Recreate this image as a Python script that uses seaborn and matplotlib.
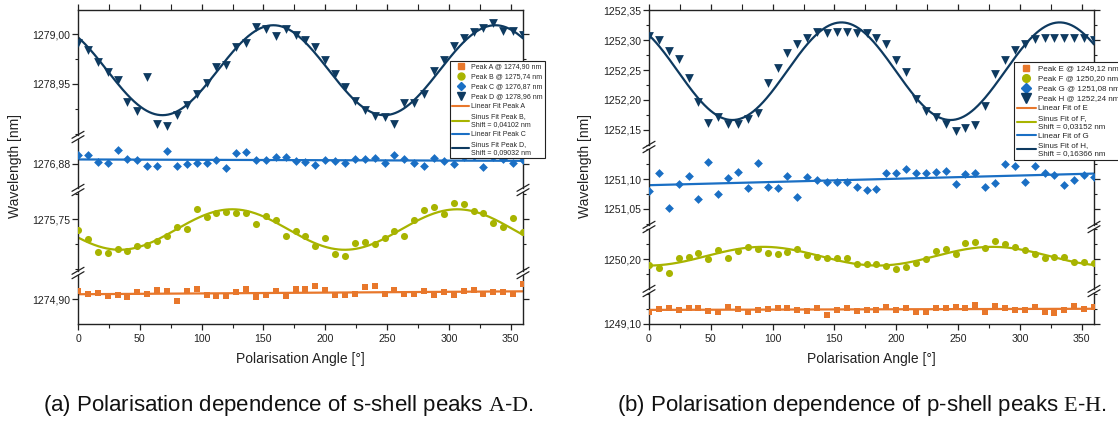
import numpy as np
import pandas as pd
import matplotlib
matplotlib.use("Agg")
import matplotlib.pyplot as plt
import seaborn as sns
from matplotlib.ticker import MultipleLocator, FuncFormatter, FixedLocator, NullLocator
from matplotlib.lines import Line2D

# ---------------- data ----------------
angles = [0, 8, 16, 24, 32, 40, 48, 56, 64, 72, 80, 88, 96, 104, 112, 120, 128, 136, 144, 152,
          160, 168, 176, 184, 192, 200, 208, 216, 224, 232, 240, 248, 256, 264, 272, 280, 288,
          296, 304, 312, 320, 328, 336, 344, 352, 360]

peak_a = [1274.908, 1274.905, 1274.906, 1274.903, 1274.904, 1274.902, 1274.907, 1274.905, 1274.909,
          1274.908, 1274.898, 1274.908, 1274.910, 1274.904, 1274.903, 1274.903, 1274.907, 1274.910,
          1274.902, 1274.904, 1274.908, 1274.903, 1274.910, 1274.910, 1274.913, 1274.909, 1274.904,
          1274.904, 1274.905, 1274.912, 1274.913, 1274.905, 1274.909, 1274.905, 1274.905, 1274.908,
          1274.904, 1274.907, 1274.904, 1274.908, 1274.909, 1274.905, 1274.907, 1274.907, 1274.905,
          1274.915]
peak_b = [1275.739, 1275.730, 1275.717, 1275.716, 1275.720, 1275.718, 1275.723, 1275.724, 1275.728,
          1275.733, 1275.742, 1275.740, 1275.760, 1275.752, 1275.756, 1275.757, 1275.756, 1275.756,
          1275.745, 1275.753, 1275.749, 1275.733, 1275.738, 1275.733, 1275.723, 1275.731, 1275.715,
          1275.713, 1275.726, 1275.727, 1275.725, 1275.731, 1275.738, 1275.733, 1275.749, 1275.759,
          1275.762, 1275.755, 1275.766, 1275.765, 1275.758, 1275.756, 1275.746, 1275.742, 1275.751,
          1275.737]
peak_c = [1276.889, 1276.889, 1276.882, 1276.881, 1276.894, 1276.885, 1276.884, 1276.878, 1276.878,
          1276.893, 1276.878, 1276.880, 1276.881, 1276.881, 1276.884, 1276.876, 1276.891, 1276.892,
          1276.884, 1276.884, 1276.887, 1276.887, 1276.883, 1276.882, 1276.879, 1276.884, 1276.883,
          1276.881, 1276.885, 1276.885, 1276.886, 1276.881, 1276.889, 1276.885, 1276.881, 1276.878,
          1276.886, 1276.883, 1276.880, 1276.887, 1276.888, 1276.877, 1276.887, 1276.885, 1276.881,
          1276.884]
peak_d = [1278.991, 1278.984, 1278.972, 1278.962, 1278.954, 1278.932, 1278.923, 1278.957, 1278.910,
          1278.908, 1278.919, 1278.929, 1278.940, 1278.951, 1278.967, 1278.969, 1278.987, 1278.991,
          1279.007, 1279.005, 1278.998, 1279.005, 1278.999, 1278.994, 1278.987, 1278.974, 1278.960,
          1278.947, 1278.933, 1278.924, 1278.918, 1278.917, 1278.910, 1278.931, 1278.931, 1278.940,
          1278.963, 1278.974, 1278.988, 1278.996, 1279.002, 1279.006, 1279.011, 1279.003, 1279.003,
          1278.999]

peak_e = [1249.1205, 1249.1245, 1249.127, 1249.1233, 1249.126, 1249.127, 1249.122, 1249.1205, 1249.128,
          1249.1245, 1249.1205, 1249.1233, 1249.125, 1249.126, 1249.127, 1249.1233, 1249.122, 1249.126,
          1249.115, 1249.1233, 1249.126, 1249.1217, 1249.1233, 1249.1233, 1249.129, 1249.1233, 1249.126,
          1249.1205, 1249.1205, 1249.126, 1249.126, 1249.128, 1249.126, 1249.1317, 1249.1205, 1249.130,
          1249.127, 1249.1233, 1249.1233, 1249.128, 1249.1205, 1249.119, 1249.1233, 1249.130, 1249.1245,
          1249.129]
peak_f = [1250.1905, 1250.186, 1250.1767, 1250.2017, 1250.2033, 1250.211, 1250.200, 1250.2155, 1250.2017,
          1250.2143, 1250.220, 1250.2167, 1250.211, 1250.209, 1250.2127, 1250.2177, 1250.207, 1250.2043,
          1250.2027, 1250.2027, 1250.2017, 1250.1917, 1250.192, 1250.192, 1250.189, 1250.1833, 1250.1877,
          1250.1933, 1250.2005, 1250.2138, 1250.2167, 1250.2083, 1250.2267, 1250.2283, 1250.2183, 1250.2305,
          1250.2255, 1250.221, 1250.2155, 1250.2083, 1250.2027, 1250.2043, 1250.2043, 1250.196, 1250.195,
          1250.1933]
peak_g = [1251.0805, 1251.1105, 1251.051, 1251.092, 1251.105, 1251.067, 1251.129, 1251.075, 1251.101,
          1251.112, 1251.0845, 1251.126, 1251.087, 1251.0845, 1251.105, 1251.0705, 1251.104, 1251.098,
          1251.0955, 1251.0955, 1251.0955, 1251.086, 1251.082, 1251.083, 1251.1095, 1251.1095, 1251.117,
          1251.1095, 1251.1105, 1251.112, 1251.114, 1251.091, 1251.108, 1251.1095, 1251.086, 1251.094,
          1251.1245, 1251.122, 1251.0955, 1251.122, 1251.1095, 1251.107, 1251.090, 1251.099, 1251.107,
          1251.103]
peak_h = [1252.307, 1252.300, 1252.282, 1252.268, 1252.237, 1252.196, 1252.161, 1252.171, 1252.160,
          1252.160, 1252.168, 1252.179, 1252.229, 1252.254, 1252.278, 1252.293, 1252.304, 1252.313,
          1252.312, 1252.313, 1252.313, 1252.311, 1252.312, 1252.303, 1252.293, 1252.267, 1252.246,
          1252.202, 1252.182, 1252.171, 1252.160, 1252.148, 1252.154, 1252.159, 1252.190, 1252.244,
          1252.266, 1252.284, 1252.293, 1252.302, 1252.304, 1252.304, 1252.304, 1252.304, 1252.304,
          1252.300]

# labelled y ticks of each axis segment
ticks_d = [1278.95, 1279.00]
ticks_c = [1276.88]
ticks_b = [1275.75]
ticks_a = [1274.90]
ticks_h = [1252.15, 1252.20, 1252.25, 1252.30, 1252.35]
ticks_g = [1251.05, 1251.10]
ticks_f = [1250.20]
ticks_e = [1249.10]

labels_left = ["Peak A @ 1274,90 nm", "Peak B @ 1275,74 nm", "Peak C @ 1276,87 nm", "Peak D @ 1278,96 nm",
               "Linear Fit Peak A", "Sinus Fit Peak B,\nShift = 0,04102 nm",
               "Linear Fit Peak C", "Sinus Fit Peak D,\nShift = 0,09032 nm"]
labels_right = ["Peak E @ 1249,12 nm", "Peak F @ 1250,20 nm", "Peak G @ 1251,08 nm", "Peak H @ 1252,24 nm",
                "Linear Fit of E", "Sinus Fit of F,\nShift = 0,03152 nm",
                "Linear Fit of G", "Sinus Fit of H,\nShift = 0,16366 nm"]
x_label = "Polarisation Angle [°]"
y_label = "Wavelength [nm]"
caption_a = r"(a) Polarisation dependence of s-shell peaks $\mathrm{A}$-$\mathrm{D}$."
caption_b = r"(b) Polarisation dependence of p-shell peaks $\mathrm{E}$-$\mathrm{H}$."

# ---------------- style ----------------
sns.set_theme(style="ticks")
plt.rcParams["font.family"] = ["Liberation Sans", "DejaVu Sans"]
plt.rcParams["mathtext.fontset"] = "custom"
plt.rcParams["mathtext.rm"] = "Liberation Serif"

C_A, C_B, C_C, C_D = "#e8772b", "#a8b400", "#1a6fc4", "#0e3a60"
INK = "#222222"

df = pd.DataFrame({"angle": angles, "A": peak_a, "B": peak_b, "C": peak_c, "D": peak_d,
                   "E": peak_e, "F": peak_f, "G": peak_g, "H": peak_h})

xf = np.linspace(0, 360, 500)


def lin_fit(x, y):
    k, c = np.polyfit(np.asarray(x, float), np.asarray(y, float), 1)
    return k * xf + c


def sine_fit(x, y):
    x = np.asarray(x, float)
    y = np.asarray(y, float)
    best = None
    for P in np.arange(140, 230, 0.5):
        M = np.column_stack([np.ones_like(x), np.sin(2 * np.pi * x / P), np.cos(2 * np.pi * x / P)])
        coef, *_ = np.linalg.lstsq(M, y, rcond=None)
        sse = np.sum((M @ coef - y) ** 2)
        if best is None or sse < best[0]:
            best = (sse, P, coef)
    _, P, coef = best
    return coef[0] + coef[1] * np.sin(2 * np.pi * xf / P) + coef[2] * np.cos(2 * np.pi * xf / P)


W, H = 1118, 426
fig = plt.figure(figsize=(W / 100, H / 100), dpi=100)
fmt = FuncFormatter(lambda v, p: f"{v:.2f}".replace(".", ","))
cmap = {"A": C_A, "B": C_B, "C": C_C, "D": C_D, "E": C_A, "F": C_B, "G": C_C, "H": C_D}


def make_panel(x0, x1, segs):
    n = len(segs)
    for i, (top, bot, ref, yref, scale, col, marker, size, kind, majors, minor_step) in enumerate(segs):
        ax = fig.add_axes([x0 / W, 1 - bot / H, (x1 - x0) / W, (bot - top) / H])
        ax.set_facecolor("none")
        sns.scatterplot(data=df, x="angle", y=col, ax=ax, marker=marker, color=cmap[col], s=size,
                        linewidth=0, zorder=3)
        yfit = lin_fit(df["angle"], df[col]) if kind == "lin" else sine_fit(df["angle"], df[col])
        sns.lineplot(x=xf, y=yfit, ax=ax, color=cmap[col], lw=1.6, zorder=2)
        ax.set_xlim(0, 360)
        lo = ref - (bot - yref) * scale
        hi = ref + (yref - top) * scale
        ax.set_ylim(lo - 1e-6, hi + 1e-6)
        ax.yaxis.set_major_locator(FixedLocator(majors))
        if minor_step:
            mins = np.arange(np.ceil(lo / minor_step - 1e-6) * minor_step, hi + 1e-9, minor_step)
            mins = [m for m in mins if all(abs(m - t) > 1e-6 for t in majors)]
            ax.yaxis.set_minor_locator(FixedLocator(mins))
        else:
            ax.yaxis.set_minor_locator(NullLocator())
        ax.yaxis.set_major_formatter(fmt)
        ax.xaxis.set_major_locator(MultipleLocator(50))
        ax.xaxis.set_minor_locator(MultipleLocator(25))
        ax.set_xlabel("")
        ax.set_ylabel("")
        for s in ax.spines.values():
            s.set_linewidth(1.0)
            s.set_color(INK)
        ax.spines["top"].set_visible(i == 0)
        ax.spines["bottom"].set_visible(i == n - 1)
        ax.tick_params(axis="y", which="both", direction="out", left=True, right=True,
                       labelleft=True, labelright=False, labelsize=7.6, pad=1.5, color=INK,
                       labelcolor=INK)
        ax.tick_params(axis="y", which="major", length=4, width=0.9)
        ax.tick_params(axis="y", which="minor", length=2.5, width=0.8)
        ax.tick_params(axis="x", which="both", direction="out", top=(i == 0), bottom=(i == n - 1),
                       labeltop=False, labelbottom=(i == n - 1), labelsize=7.6, pad=3,
                       color=INK, labelcolor=INK)
        ax.tick_params(axis="x", which="major", length=4, width=0.9)
        ax.tick_params(axis="x", which="minor", length=3 if i == n - 1 else 4, width=0.8)
    # break marks on both spines
    for k in range(n - 1):
        yb = (segs[k][1] + segs[k + 1][0]) / 2
        for xs in (x0, x1):
            for dy in (-2.2, 2.2):
                fig.add_artist(Line2D([(xs - 6) / W, (xs + 6) / W],
                                      [1 - (yb + dy + 3.5) / H, 1 - (yb + dy - 3.5) / H],
                                      transform=fig.transFigure, color=INK, lw=0.9))


sl = 0.001
sr = 0.05 / 30
left_segs = [
    (10, 135, 1279.00, 34, sl, "D", "v", 40, "sin", ticks_d, 0.025),
    (139, 188, 1276.88, 164, sl, "C", "D", 20, "lin", ticks_c, None),
    (192, 271, 1275.75, 219.3, sl, "B", "o", 26, "sin", ticks_b, 0.025),
    (275, 324, 1274.90, 299.3, sl, "A", "s", 19, "lin", ticks_a, None),
]
right_segs = [
    (10, 145, 1252.35, 10, sr, "H", "v", 40, "sin", ticks_h, 0.025),
    (149, 225, 1251.10, 179, sr, "G", "D", 20, "lin", ticks_g, 0.025),
    (229, 289, 1250.20, 259.3, sr, "F", "o", 26, "sin", ticks_f, 0.025),
    (293, 324, 1249.10, 324, sr, "E", "s", 19, "lin", ticks_e, 0.025),
]
make_panel(78, 523, left_segs)
make_panel(649, 1094, right_segs)


def legend_handles(scale):
    return [Line2D([], [], ls="none", marker="s", color=C_A, ms=4.2 * scale),
            Line2D([], [], ls="none", marker="o", color=C_B, ms=5 * scale),
            Line2D([], [], ls="none", marker="D", color=C_C, ms=4.2 * scale),
            Line2D([], [], ls="none", marker="v", color=C_D, ms=6 * scale),
            Line2D([], [], color=C_A, lw=1.5), Line2D([], [], color=C_B, lw=1.5),
            Line2D([], [], color=C_C, lw=1.5), Line2D([], [], color=C_D, lw=1.5)]


for labels, (lx, ly), fs, ls, sc in ((labels_left, (450, 61), 5.0, 0.42, 1.0),
                                     (labels_right, (1014, 62), 5.75, 0.3, 1.1)):
    leg = fig.legend(handles=legend_handles(sc), labels=labels, loc="upper left",
                     bbox_to_anchor=(lx / W, 1 - ly / H), fontsize=fs, frameon=True, fancybox=False,
                     edgecolor=INK, framealpha=1, borderpad=0.35, labelspacing=ls,
                     handlelength=2.4, handletextpad=0.25, borderaxespad=0)
    leg.get_frame().set_linewidth(0.8)

for cx in (15, 585):
    fig.text(cx / W, 1 - 166 / H, y_label, rotation=90, ha="center", va="center", fontsize=10,
             color=INK)
for cx in (300, 871):
    fig.text(cx / W, 1 - 359 / H, x_label, ha="center", va="center", fontsize=10, color=INK)
fig.text(288 / W, 1 - 405 / H, caption_a, ha="center", va="center", fontsize=16, color="#111111")
fig.text(862 / W, 1 - 405 / H, caption_b, ha="center", va="center", fontsize=16, color="#111111")

fig.savefig("out.png", dpi=100)
